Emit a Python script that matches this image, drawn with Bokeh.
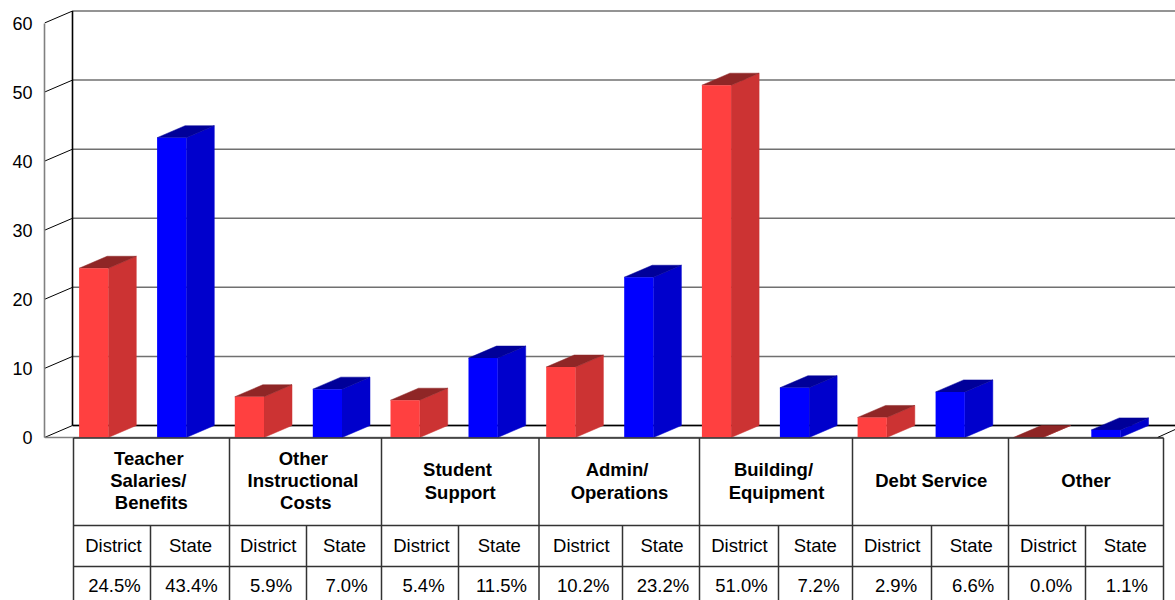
from bokeh.plotting import figure
from bokeh.models import Range1d, FixedTicker
from bokeh.core.properties import value
from bokeh.embed import file_html
from bokeh.resources import INLINE

# ---- data ----
categories = [
    ["Teacher", "Salaries/", "Benefits"],
    ["Other", "Instructional", "Costs"],
    ["Student", "Support"],
    ["Admin/", "Operations"],
    ["Building/", "Equipment"],
    ["Debt Service"],
    ["Other"],
]
series_names = ["District", "State"]
district = [24.5, 5.9, 5.4, 10.2, 51.0, 2.9, 0.0]
state = [43.4, 7.0, 11.5, 23.2, 7.2, 6.6, 1.1]
y_ticks = [0, 10, 20, 30, 40, 50, 60]

# ---- layout (screen pixels) ----
FONT = "Liberation Sans"
PX_PER_UNIT = 6.908
Y0_PX = 437.0
DX = 28.0                    # 3D depth, horizontal px
DV = 12.0 / PX_PER_UNIT      # 3D depth in value units
BAR_W = 29.2
BAR_STEP = 155.7
D_X0, S_X0 = 78.6, 156.6

cat_edges = [73, 229, 381, 538.5, 699, 852, 1008, 1163]
sub_edges = [150, 306, 458, 622, 778, 931, 1085]
row_lines = [437.5, 525, 566]
TABLE_BOTTOM = 603

header_cx = [[148.3, 147.8, 150.8], [302.8, 302.5, 305.3], [457, 459.7],
             [616.5, 619], [773, 776], [930.8], [1085.5]]
header_mid = [[458, 480, 502], [458, 480, 502], [469, 491.5],
              [469, 491.5], [469, 491.5], [480], [480]]
name_cx = [113, 190, 267.7, 344, 421, 498.8, 580.8, 661.5, 739, 814.8, 891.7, 970.8, 1047.7, 1124.8]
val_cx = [114, 191, 270.5, 346, 423, 501, 582.7, 662.5, 741, 818, 895.5, 972.7, 1050.7, 1126.3]
NAME_MID, VAL_MID = 544.5, 585
TXT = "18.5px"

p = figure(width=1175, height=600, output_backend="svg", toolbar_location=None,
           x_range=Range1d(44, 1175),
           y_range=Range1d((Y0_PX - 600) / PX_PER_UNIT, Y0_PX / PX_PER_UNIT),
           min_border_left=44, min_border_right=0, min_border_top=0, min_border_bottom=0,
           x_axis_location=None, tools="")
p.extra_y_ranges = {"px": Range1d(600, 0)}
p.grid.visible = False
p.outline_line_color = None
p.background_fill_color = "white"
p.border_fill_color = "white"

ax = p.yaxis[0]
ax.ticker = FixedTicker(ticks=y_ticks)
ax.bounds = (0, 60)
ax.major_tick_line_color = None
ax.minor_tick_line_color = None
ax.major_tick_out = 0
ax.major_tick_in = 0
ax.major_label_standoff = 12
ax.major_label_text_font = FONT
ax.major_label_text_font_size = "18px"
ax.major_label_text_color = "#000000"
ax.axis_line_color = "#808080"
ax.axis_line_width = 1.6

# back wall grid + side wall diagonals
XB = 44 + DX
p.segment(x0=[XB] * len(y_ticks), y0=[t + DV for t in y_ticks],
          x1=[1175] * len(y_ticks), y1=[t + DV for t in y_ticks],
          line_color="#707070", line_width=1.5)
p.segment(x0=[44] * len(y_ticks), y0=y_ticks, x1=[XB] * len(y_ticks), y1=[t + DV for t in y_ticks],
          line_color="#000000", line_width=1)
p.segment(x0=[XB], y0=[0 + DV], x1=[XB], y1=[60 + DV], line_color="#000000", line_width=1.6)
p.segment(x0=[XB], y0=[DV], x1=[1175], y1=[DV], line_color="#000000", line_width=1.6)
p.segment(x0=[44], y0=[0], x1=[1163], y1=[0], line_color="#808080", line_width=1.6)
p.segment(x0=[1157], y0=[0], x1=[1175], y1=[DV * 0.68], line_color="#000000", line_width=1)


def draw_bars(vals, x0, front, side, top):
    xs = [x0 + i * BAR_STEP for i in range(len(vals))]
    p.patches(xs=[[x + BAR_W, x + BAR_W + DX, x + BAR_W + DX, x + BAR_W] for x in xs],
              ys=[[0, DV, v + DV, v] for v in vals],
              fill_color=side, line_color=side, line_width=0.5)
    p.patches(xs=[[x, x + BAR_W, x + BAR_W + DX, x + DX] for x in xs],
              ys=[[v, v, v + DV, v + DV] for v in vals],
              fill_color=top, line_color=top, line_width=0.5)
    p.quad(left=xs, right=[x + BAR_W for x in xs], bottom=[0] * len(vals), top=vals,
           fill_color=front, line_color=None)


draw_bars(district, D_X0, "#FF4040", "#CC3333", "#8F2626")
draw_bars(state, S_X0, "#0000FF", "#0000CC", "#000099")

# table lines
TC = "#333333"
p.segment(x0=[cat_edges[0]] * 3, y0=row_lines, x1=[cat_edges[-1]] * 3, y1=row_lines,
          line_color=TC, line_width=1.5, y_range_name="px")
p.segment(x0=cat_edges, y0=[row_lines[0]] * len(cat_edges), x1=cat_edges, y1=[TABLE_BOTTOM] * len(cat_edges),
          line_color=TC, line_width=1.5, y_range_name="px")
p.segment(x0=sub_edges, y0=[row_lines[1]] * len(sub_edges), x1=sub_edges, y1=[TABLE_BOTTOM] * len(sub_edges),
          line_color=TC, line_width=1.5, y_range_name="px")

# table text
hx, hy, ht = [], [], []
for lines, cxs, mids in zip(categories, header_cx, header_mid):
    for t, cx, m in zip(lines, cxs, mids):
        hx.append(cx); hy.append(m); ht.append(t)
p.text(x=hx, y=hy, text=ht, text_font=value(FONT), text_font_size=TXT, text_font_style="bold",
       text_align="center", text_baseline="middle", text_color="#000000", y_range_name="px")

names = series_names * len(categories)
p.text(x=name_cx, y=[NAME_MID] * len(names), text=names, text_font=value(FONT), text_font_size=TXT,
       text_align="center", text_baseline="middle", text_color="#000000", y_range_name="px")

pct = []
for d, s in zip(district, state):
    pct += [f"{d:.1f}%", f"{s:.1f}%"]
p.text(x=val_cx, y=[VAL_MID] * len(pct), text=pct, text_font=value(FONT), text_font_size=TXT,
       text_align="center", text_baseline="middle", text_color="#000000", y_range_name="px")

open("out.html", "w").write(file_html(p, INLINE))
